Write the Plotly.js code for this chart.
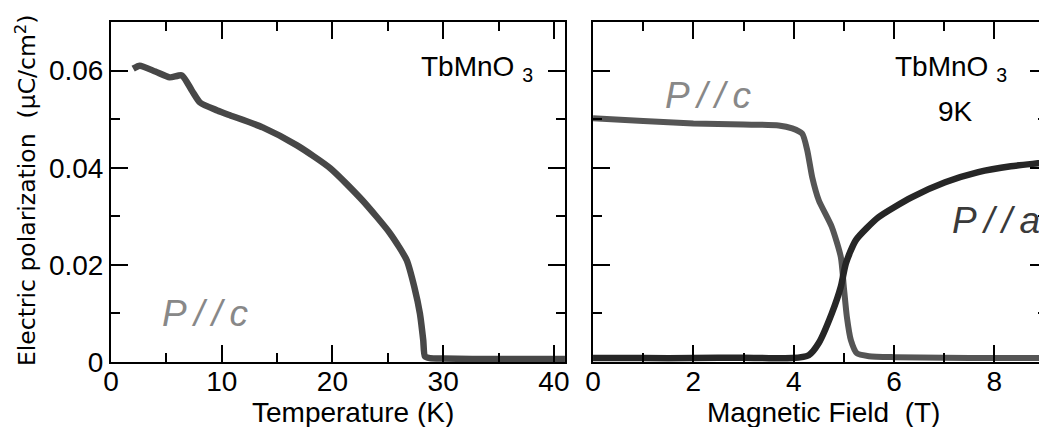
<!DOCTYPE html>
<html>
<head>
<meta charset="utf-8">
<script src="https://cdn.plot.ly/plotly-3.0.1.min.js"></script>
<style>
html,body{margin:0;padding:0;overflow:hidden;background:#fff;}
#chart{width:1060px;height:427px;}
</style>
</head>
<body>
<div id="chart"></div>
<script>
// Left panel: P//c vs temperature
const temperatureK = [2.0, 2.6, 4.0, 5.3, 6.4, 7.3, 8.05, 9.6, 10.74, 13.7, 16.8, 19.8, 22.7, 25.2, 26.7, 27.4, 27.9, 28.2, 28.35, 28.8, 30, 35, 41];
const polC_vsT = [0.0604, 0.0610, 0.0598, 0.0586, 0.0590, 0.0559, 0.0534, 0.0518, 0.0508, 0.0483, 0.0446, 0.0399, 0.0333, 0.0265, 0.0210, 0.0154, 0.0100, 0.0045, 0.0012, 0.0008, 0.0007, 0.0006, 0.0006];

// Right panel: P//c and P//a vs magnetic field at 9K
const fieldC = [0, 1, 2, 3, 3.7, 3.97, 4.17, 4.27, 4.37, 4.5, 4.76, 4.94, 5.0, 5.06, 5.14, 5.26, 5.5, 6, 7, 8, 9.05];
const polC_vsH = [0.0502, 0.0496, 0.0491, 0.0489, 0.0487, 0.0481, 0.0470, 0.0436, 0.0380, 0.0333, 0.0278, 0.0216, 0.0154, 0.0093, 0.0045, 0.0018, 0.0012, 0.0010, 0.0009, 0.0008, 0.0008];
const fieldA = [0, 1, 2, 3, 3.97, 4.3, 4.5, 4.76, 4.94, 5.04, 5.24, 5.69, 6.35, 7.02, 7.68, 8.33, 8.87, 9.05];
const polA_vsH = [0.0008, 0.0008, 0.0008, 0.0009, 0.0008, 0.0014, 0.0039, 0.0100, 0.0155, 0.0203, 0.0251, 0.0298, 0.0339, 0.0370, 0.0391, 0.0403, 0.0409, 0.0411];

const leftXTicks = [0, 10, 20, 30, 40];
const rightXTicks = [0, 2, 4, 6, 8];
const yTicks = [0, 0.02, 0.04, 0.06];
const yTickText = ['0', '0.02', '0.04', '0.06'];

const FONT = 'Liberation Sans, Arial, sans-serif';
const TFONT = 'DejaVu Sans, Liberation Sans, sans-serif';

const traces = [
  {x: temperatureK, y: polC_vsT, xaxis: 'x', yaxis: 'y', mode: 'lines',
   line: {color: '#474747', width: 6.5, shape: 'spline', smoothing: 0.6}, hoverinfo: 'skip'},
  {x: fieldC, y: polC_vsH, xaxis: 'x2', yaxis: 'y2', mode: 'lines',
   line: {color: '#555555', width: 6, shape: 'spline', smoothing: 0.6}, hoverinfo: 'skip'},
  {x: fieldA, y: polA_vsH, xaxis: 'x2', yaxis: 'y2', mode: 'lines',
   line: {color: '#262626', width: 6.5, shape: 'spline', smoothing: 0.6}, hoverinfo: 'skip'}
];

const minorStyle = {ticks: 'inside', ticklen: 9, tickwidth: 2, tickcolor: '#000', showgrid: false};

const axisCommon = {
  showline: true, linecolor: '#000', linewidth: 2, mirror: 'ticks',
  ticks: 'inside', ticklen: 17, tickwidth: 2, tickcolor: '#000',
  showgrid: false, zeroline: false,
  tickfont: {family: FONT, size: 28, color: '#000'}
};

const layout = {
  width: 1060, height: 427,
  margin: {l: 111, r: 13, t: 22, b: 65},
  paper_bgcolor: '#fff', plot_bgcolor: '#fff',
  showlegend: false,
  font: {family: FONT, color: '#000'},
  xaxis: Object.assign({}, axisCommon, {domain: [0, 0.485], range: [0, 41.0],
    tickvals: leftXTicks, ticktext: leftXTicks.map(String), ticklabelstandoff: -7,
    minor: Object.assign({dtick: 5, tick0: 0}, minorStyle), anchor: 'y'}),
  yaxis: Object.assign({}, axisCommon, {range: [0, 0.07], tickvals: yTicks, ticktext: yTickText,
    minor: Object.assign({dtick: 0.01, tick0: 0}, minorStyle), anchor: 'x'}),
  xaxis2: Object.assign({}, axisCommon, {domain: [0.515, 1], range: [0, 9.05],
    tickvals: rightXTicks, ticktext: rightXTicks.map(String), ticklabelstandoff: -7,
    minor: Object.assign({dtick: 1, tick0: 0}, minorStyle), anchor: 'y2'}),
  yaxis2: Object.assign({}, axisCommon, {range: [0, 0.07], tickvals: yTicks, showticklabels: false,
    minor: Object.assign({dtick: 0.01, tick0: 0}, minorStyle), anchor: 'x2'}),
  annotations: [
    {xref: 'paper', yref: 'paper', x: -0.091, y: 0.505, textangle: -90, showarrow: false,
     text: 'Electric polarization  (μC/cm<sup>2</sup>)', font: {family: TFONT, size: 23.5, color: '#000'},
     xanchor: 'center', yanchor: 'middle'},
    {xref: 'x', yref: 'paper', x: 21.9, y: -0.15, showarrow: false, text: 'Temperature (K)',
     font: {family: FONT, size: 28, color: '#000'}, xanchor: 'center', yanchor: 'middle'},
    {xref: 'x2', yref: 'paper', x: 4.6, y: -0.15, showarrow: false, text: 'Magnetic Field  (T)',
     font: {family: FONT, size: 28, color: '#000'}, xanchor: 'center', yanchor: 'middle'},
    {xref: 'x', yref: 'y', x: 38.3, y: 0.0645, showarrow: false, text: 'TbMnO <sub>3</sub>',
     font: {family: FONT, size: 28, color: '#000'}, xanchor: 'right', yanchor: 'top'},
    {xref: 'x2', yref: 'y2', x: 8.3, y: 0.0645, showarrow: false, text: 'TbMnO <sub>3</sub>',
     font: {family: FONT, size: 28, color: '#000'}, xanchor: 'right', yanchor: 'top'},
    {xref: 'x2', yref: 'y2', x: 7.22, y: 0.0516, showarrow: false, text: '9K',
     font: {family: FONT, size: 28, color: '#000'}, xanchor: 'center', yanchor: 'middle'},
    {xref: 'x', yref: 'y', x: 8.5, y: 0.0099, showarrow: false, text: '<i>P\u2009/\u2009/\u2009c</i>',
     font: {family: FONT, size: 37, color: '#888888'}, xanchor: 'center', yanchor: 'middle'},
    {xref: 'x2', yref: 'y2', x: 2.3, y: 0.0549, showarrow: false, text: '<i>P\u2009/\u2009/\u2009c</i>',
     font: {family: FONT, size: 37, color: '#888888'}, xanchor: 'center', yanchor: 'middle'},
    {xref: 'x2', yref: 'y2', x: 7.12, y: 0.0292, showarrow: false, text: '<i>P\u2009/\u2009/\u2009a</i>',
     font: {family: FONT, size: 37, color: '#3a3a3a'}, xanchor: 'left', yanchor: 'middle'}
  ]
};

Plotly.newPlot('chart', traces, layout, {staticPlot: true, displayModeBar: false});
</script>
</body>
</html>
